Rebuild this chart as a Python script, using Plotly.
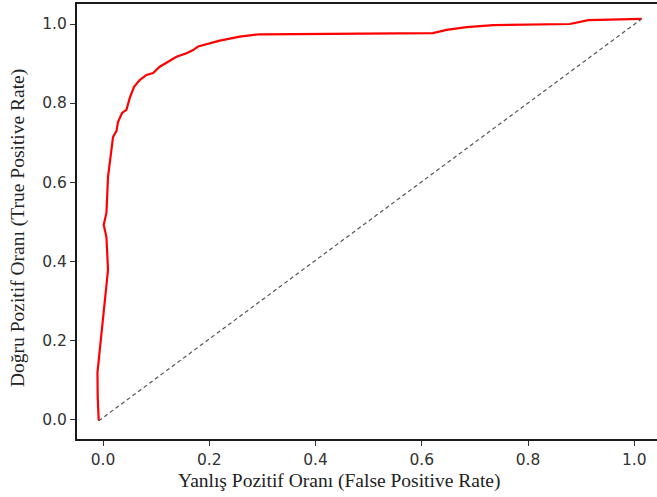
import plotly.graph_objects as go

# ROC curve points
fpr = [-0.0081, -0.0100, -0.0105, -0.0062, 0.0000, 0.0045, 0.0094, 0.0064, 0.0013, 0.0064,
       0.0094, 0.0188, 0.0252, 0.0282, 0.0358, 0.0441, 0.0503, 0.0584, 0.0691, 0.0817,
       0.0942, 0.1068, 0.1224, 0.1382, 0.1571, 0.1695, 0.1789, 0.2009, 0.2198, 0.2574,
       0.2951, 0.6209, 0.6467, 0.6844, 0.7345, 0.8789, 0.9134, 1.0139]
tpr = [-0.004, 0.054, 0.118, 0.176, 0.269, 0.320, 0.378, 0.461, 0.492, 0.522,
       0.613, 0.714, 0.729, 0.752, 0.775, 0.783, 0.813, 0.841, 0.858, 0.871,
       0.876, 0.892, 0.905, 0.917, 0.926, 0.934, 0.943, 0.951, 0.958, 0.968,
       0.974, 0.977, 0.985, 0.992, 0.997, 1.000, 1.010, 1.013]

diag_x = [-0.0081, 1.0139]
diag_y = [-0.004, 1.013]

tick_vals = [0.0, 0.2, 0.4, 0.6, 0.8, 1.0]
tick_text = ["0.0", "0.2", "0.4", "0.6", "0.8", "1.0"]

x_title = "Yanlış Pozitif Oranı (False Positive Rate)"
y_title = "Doğru Pozitif Oranı (True Positive Rate)"

fig = go.Figure()
fig.add_trace(go.Scatter(x=fpr, y=tpr, mode="lines",
                         line=dict(color="#ff0000", width=2.2), showlegend=False))
fig.add_trace(go.Scatter(x=diag_x, y=diag_y, mode="lines",
                         line=dict(color="#555555", width=1.2, dash="4px,3px"), showlegend=False))

axis_common = dict(
    showgrid=False, zeroline=False, showline=True, linecolor="#1a1a1a", linewidth=2,
    ticks="outside", ticklen=5, tickwidth=1.2, tickcolor="#333333",
    tickvals=tick_vals, ticktext=tick_text,
    tickfont=dict(family="DejaVu Sans", size=15.5, color="#333333"),
)

title_font = dict(family="Liberation Serif", size=19.5, color="#222222")

fig.update_layout(
    width=657, height=497,
    margin=dict(l=77, r=0, t=4, b=58),
    plot_bgcolor="white", paper_bgcolor="white",
    xaxis=dict(range=[-0.049, 1.0427], mirror=True, **axis_common),
    yaxis=dict(range=[-0.050, 1.0506], **axis_common),
    annotations=[
        dict(text=x_title, xref="paper", yref="paper", x=0.4517, y=-0.0966,
             xanchor="center", yanchor="middle", showarrow=False, font=title_font),
        dict(text=y_title, xref="paper", yref="paper", x=-0.1017, y=0.485,
             xanchor="center", yanchor="middle", showarrow=False, font=title_font,
             textangle=-90),
    ],
)

fig.write_html("out.html")
